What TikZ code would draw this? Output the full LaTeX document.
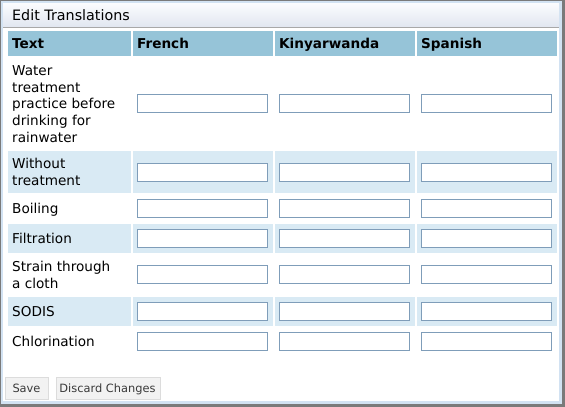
\documentclass[tikz,border=0pt]{standalone}
\usepackage{fontspec}
\newfontfamily\uifont{DejaVu Sans}
\newfontfamily\uifontb{DejaVu Sans Bold}
\definecolor{framegray}{HTML}{7A7A7A}
\definecolor{bandblue}{HTML}{D2E2F2}
\definecolor{titletop}{HTML}{FBFCFE}
\definecolor{titlebot}{HTML}{E1E6F0}
\definecolor{titleline}{HTML}{A8A8A8}
\definecolor{headblue}{HTML}{96C4D8}
\definecolor{altblue}{HTML}{D9EAF4}
\definecolor{inputborder}{HTML}{7F9DB9}
\definecolor{btnfill}{HTML}{F2F2F2}
\definecolor{btnborder}{HTML}{DCDCDC}
\definecolor{btntext}{HTML}{3A3A3A}
\tikzset{
  x=1pt, y=-1pt,
  inputbox/.style={draw=inputborder, line width=1pt, fill=white},
  bodytext/.style={inner sep=0pt, anchor=west, align=left, font=\uifont\fontsize{13.6}{16.7}\selectfont},
  headtext/.style={inner sep=0pt, anchor=base west, font=\uifontb\fontsize{13.6}{16.7}\selectfont},
  btn/.style={draw=btnborder, line width=1pt, fill=btnfill},
  btntextst/.style={inner sep=0pt, anchor=base, text=btntext, font=\uifont\fontsize{11.4}{13}\selectfont},
}
\newcommand{\rowtxt}[1]{\strut#1}
\begin{document}
\begin{tikzpicture}
\useasboundingbox (0,0) rectangle (565,407);
% frame
\fill[framegray] (0,0) rectangle (565,407);
\fill[bandblue] (1,1) rectangle (562,404);
\fill[white] (3,3) rectangle (559,401);
% title bar
\shade[top color=titletop, bottom color=titlebot] (3,3) rectangle (559,27);
\fill[titleline] (3,27) rectangle (559,28);
\node[inner sep=0pt, anchor=base west, font=\uifont\fontsize{14.3}{16}\selectfont] (title) at (12,20.5) {Edit Translations};
% header
\foreach \a/\b in {8/131,133/273,275/415,417/557}{
  \fill[headblue] (\a,31) rectangle (\b,56);
}
% alternating rows
\foreach \t/\u in {151/193,224/253,297/326}{
  \foreach \a/\b in {8/131,133/273,275/415,417/557}{
    \fill[altblue] (\a,\t) rectangle (\b,\u);
  }
}
\node[headtext] (hText) at (12,48) {Text};
\node[headtext] (hFr) at (137,48) {French};
\node[headtext] (hKi) at (279,48) {Kinyarwanda};
\node[headtext] (hSp) at (421,48) {Spanish};
% row texts
\node[bodytext] (t1) at (12,105.5) {\rowtxt{Water}\\\rowtxt{treatment}\\\rowtxt{practice before}\\\rowtxt{drinking for}\\\rowtxt{rainwater}};
\node[bodytext] (t2) at (12,174) {\rowtxt{Without}\\\rowtxt{treatment}};
\node[bodytext] (t3) at (12,210.5) {\rowtxt{Boiling}};
\node[bodytext] (t4) at (12,240.5) {\rowtxt{Filtration}};
\node[bodytext] (t5) at (12,277) {\rowtxt{Strain through}\\\rowtxt{a cloth}};
\node[bodytext] (t6) at (12,313.5) {\rowtxt{SODIS}};
\node[bodytext] (t7) at (12,343.5) {\rowtxt{Chlorination}};
% inputs
\foreach \r/\c in {1/103.5,2/172,3/208,4/238.5,5/274,6/311.5,7/341.5}{
  \draw[inputbox] (137.5,\c-9) rectangle (267.5,\c+9);
  \draw[inputbox] (279.5,\c-9) rectangle (409.5,\c+9);
  \draw[inputbox] (421.5,\c-9) rectangle (551.5,\c+9);
}
% buttons
\draw[btn] (5.5,377.5) rectangle (48.5,399.5);
\node[btntextst] (bSave) at (26.5,392) {Save};
\draw[btn] (56.5,377.5) rectangle (160.5,399.5);
\node[btntextst] (bDisc) at (107.5,392) {Discard Changes};
\end{tikzpicture}
\end{document}
